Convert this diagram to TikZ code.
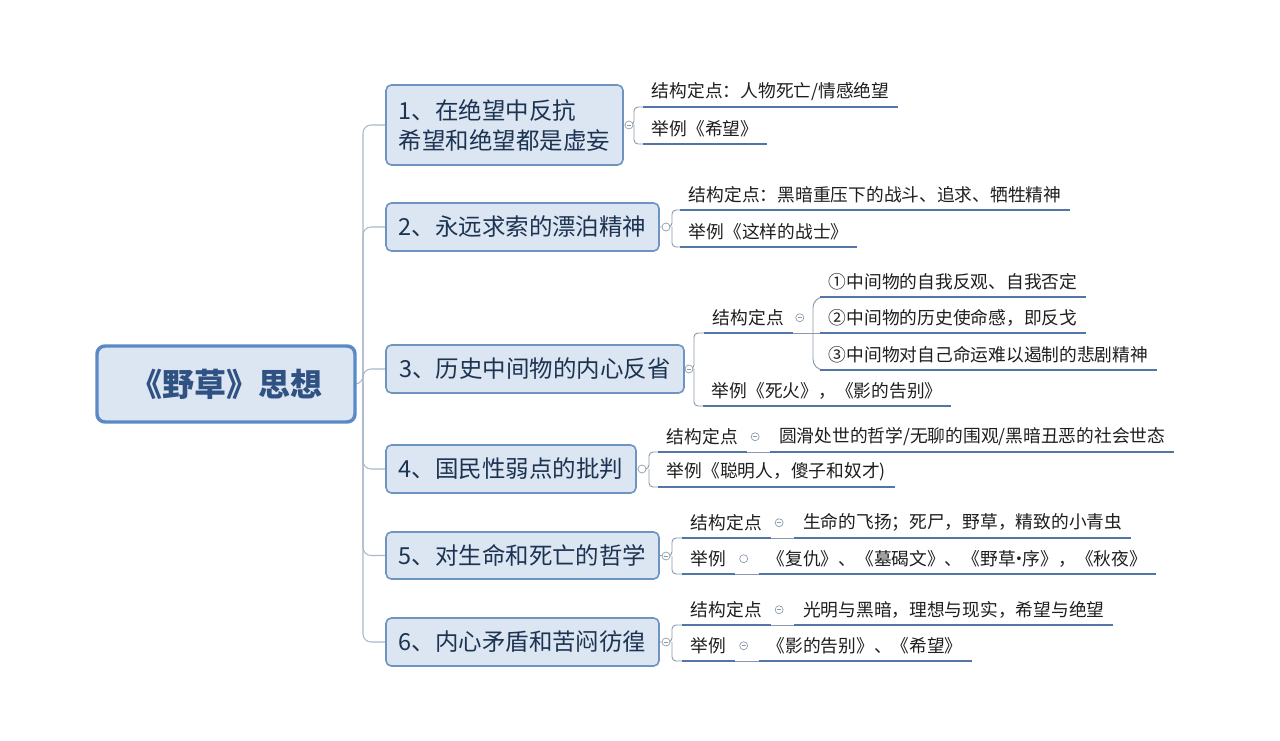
\documentclass[tikz,border=0pt]{standalone}
\usepackage{fontspec}
\setmainfont{Noto Sans CJK SC}
\usepackage{tikz}
\usetikzlibrary{positioning}

\definecolor{boxfill}{HTML}{DCE6F2}
\definecolor{boxline}{HTML}{6F94C2}
\definecolor{rootline}{HTML}{5B89C4}
\definecolor{boxtext}{HTML}{1C3352}
\definecolor{roottext}{HTML}{2F5283}
\definecolor{ulinecol}{HTML}{5276A8}
\definecolor{branchcol}{HTML}{8A9AAC}
\definecolor{trunkcol}{HTML}{A8B8CA}
\definecolor{leaftext}{HTML}{1E1E1E}

\begin{document}
\begin{tikzpicture}[x=0.75pt,y=-0.75pt]
\tikzstyle{topic} = [draw=boxline,line width=1.2pt,fill=boxfill,rounded corners=4pt,text=boxtext,font=\fontsize{17.6}{22.5}\selectfont,inner sep=0pt,minimum height=36pt]
\tikzstyle{central} = [draw=rootline,line width=2.6pt,fill=boxfill,rounded corners=6pt,text=roottext,font=\fontsize{24}{28}\selectfont\bfseries,inner sep=0pt,minimum width=193.5pt,minimum height=57pt]
\tikzstyle{leaf} = [anchor=south west,inner xsep=6.5pt,inner ysep=0pt,minimum height=22.5pt,text=leaftext,font=\fontsize{13.3}{16}\selectfont]
\tikzstyle{knob} = [draw=branchcol,fill=white,circle,inner sep=0pt,minimum size=6pt,line width=0.5pt]
\tikzstyle{knobm} = [knob,path picture={\draw[branchcol,line width=0.5pt] ([xshift=-1.6pt]path picture bounding box.center) -- ([xshift=1.6pt]path picture bounding box.center);}]
\tikzstyle{under} = [draw=ulinecol,line width=2.2pt]
\tikzstyle{branch} = [draw=branchcol,line width=0.7pt]
\tikzstyle{trunk} = [draw=trunkcol,line width=0.8pt,rounded corners=6pt]

\pgfdeclarelayer{background}
\pgfsetlayers{background,main}

\useasboundingbox (0,0) rectangle (1280,741);

% central topic and main topics
\node[central] (root) at (226,384) {《野草》思想};

\node[topic,align=left,minimum width=177.75pt,minimum height=60pt] (b1) at (504.5,125) {1、在绝望中反抗\\希望和绝望都是虚妄};
\node[topic,minimum width=204.75pt] (b2) at (522.5,227) {2、永远求索的漂泊精神};
\node[topic,minimum width=223.5pt] (b3) at (535,369) {3、历史中间物的内心反省};
\node[topic,minimum width=187.5pt] (b4) at (511,469) {4、国民性弱点的批判};
\node[topic,minimum width=204.75pt,minimum height=35.25pt] (b5) at (522.5,555.5) {5、对生命和死亡的哲学};
\node[topic,minimum width=204.75pt] (b6) at (522.5,642) {6、内心矛盾和苦闷彷徨};

\coordinate (hub) at (363,384);

% subtopics
\node[leaf] (l11) at (643,107) {结构定点：人物死亡/情感绝望};
\node[leaf] (l12) at (643,144) {举例《希望》};

\node[leaf] (l21) at (680,210) {结构定点：黑暗重压下的战斗、追求、牺牲精神};
\node[leaf] (l22) at (680,247) {举例《这样的战士》};

\node[leaf] (s3) at (704,333) {结构定点};
\node[knobm,right=2pt of s3] (ks3) {};
\node[leaf] (m31) at (820,297) {①中间物的自我反观、自我否定};
\node[leaf] (m32) at (820,333) {②中间物的历史使命感，即反戈};
\node[leaf] (m33) at (820,370) {③中间物对自己命运难以遏制的悲剧精神};
\node[leaf] (e3) at (703,406) {举例《死火》，《影的告别》};

\node[leaf] (s4) at (658,452) {结构定点};
\node[knobm,right=3pt of s4] (ks4) {};
\node[leaf,right=8pt of ks4] (d4) {圆滑处世的哲学/无聊的围观/黑暗丑恶的社会世态};
\node[leaf] (e4) at (658,487) {举例《聪明人，傻子和奴才)};

\node[leaf] (s5) at (682,538) {结构定点};
\node[knobm,right=3pt of s5] (ks5) {};
\node[leaf,right=8pt of ks5] (d5) {生命的飞扬；死尸，野草，精致的小青虫};
\node[leaf] (e5) at (682,574) {举例};
\node[knob,right=3pt of e5] (ke5) {};
\node[leaf,right=8pt of ke5] (f5) {《复仇》、《墓碣文》、《野草{\kern-0.3em}·{\kern-0.3em}序》，《秋夜》};

\node[leaf] (s6) at (682,625) {结构定点};
\node[knobm,right=3pt of s6] (ks6) {};
\node[leaf,right=8pt of ks6] (d6) {光明与黑暗，理想与现实，希望与绝望};
\node[leaf] (e6) at (682,661) {举例};
\node[knobm,right=3pt of e6] (ke6) {};
\node[leaf,right=8pt of ke6] (f6) {《影的告别》、《希望》};

% collapse knobs of main topics
\node[knobm] (k1) at (629,125) {};
\node[knob] (k2) at (666,227) {};
\node[knobm] (k3) at (689,369) {};
\node[knob] (k4) at (642,469) {};
\node[knobm] (k5) at (666,556) {};
\node[knobm] (k6) at (666,642) {};

\coordinate (j1) at (634,125);
\coordinate (j2) at (672,227);
\coordinate (j3) at (694,369);
\coordinate (j31) at (813,333);
\coordinate (j4) at (649,469);
\coordinate (j5) at (672,556);
\coordinate (j6) at (672,642);

\begin{pgfonlayer}{background}
\draw[trunk] (root.east) -- (hub) |- (b1.west);
\draw[trunk] (hub) |- (b2.west);
\draw[trunk] (hub) |- (b3.west);
\draw[trunk] (hub) |- (b4.west);
\draw[trunk] (hub) |- (b5.west);
\draw[trunk] (hub) |- (b6.west);

\draw[branch,rounded corners=3pt] (b1.east) -- (k1) -- (j1) |- (l11.south west);
\draw[branch,rounded corners=3pt] (j1) |- (l12.south west);
\draw[branch,rounded corners=3pt] (b2.east) -- (k2) -- (j2) |- (l21.south west);
\draw[branch,rounded corners=3pt] (j2) |- (l22.south west);
\draw[branch,rounded corners=3pt] (b3.east) -- (k3) -- (j3) |- (s3.south west);
\draw[branch,rounded corners=3pt] (j3) |- (e3.south west);
\draw[branch] (s3.south east) -- (m32.south west);
\draw[branch,rounded corners=8pt] (j31) |- (m31.south west);
\draw[branch,rounded corners=8pt] (j31) |- (m33.south west);
\draw[branch,rounded corners=3pt] (b4.east) -- (k4) -- (j4) |- (s4.south west);
\draw[branch,rounded corners=3pt] (j4) |- (e4.south west);
\draw[branch] (s4.south east) -- (d4.south west);
\draw[branch,rounded corners=3pt] (b5.east) -- (k5) -- (j5) |- (s5.south west);
\draw[branch,rounded corners=3pt] (j5) |- (e5.south west);
\draw[branch] (s5.south east) -- (d5.south west);
\draw[branch] (e5.south east) -- (f5.south west);
\draw[branch,rounded corners=3pt] (b6.east) -- (k6) -- (j6) |- (s6.south west);
\draw[branch,rounded corners=3pt] (j6) |- (e6.south west);
\draw[branch] (s6.south east) -- (d6.south west);
\draw[branch] (e6.south east) -- (f6.south west);
\end{pgfonlayer}

% underlines
\foreach \n in {l11,l12,l21,l22,s3,m31,m32,m33,e3,s4,d4,e4,s5,d5,e5,f5,s6,d6,e6,f6}
  \draw[under] (\n.south west) -- (\n.south east);

\end{tikzpicture}
\end{document}
